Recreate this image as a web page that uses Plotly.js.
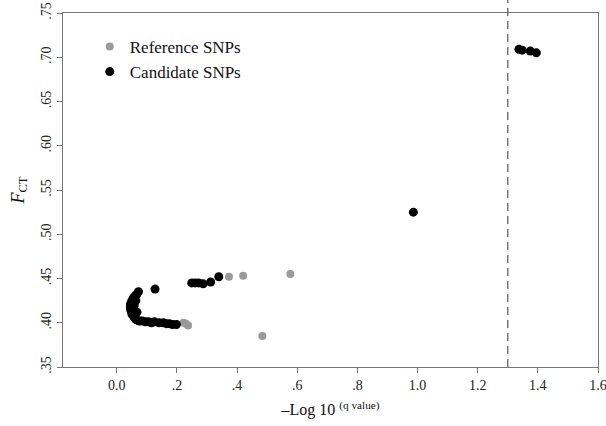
<!DOCTYPE html>
<html>
<head>
<meta charset="utf-8">
<script src="https://cdn.plot.ly/plotly-3.0.1.min.js"></script>
<style>html,body{margin:0;padding:0;background:#fff;}#chart{width:606px;height:426px;}</style>
</head>
<body>
<div id="chart"></div>
<script>
// Reference SNPs (grey)
const refX = [0.222, 0.230, 0.237, 0.373, 0.420, 0.577, 0.484];
const refY = [0.400, 0.399, 0.397, 0.452, 0.453, 0.455, 0.385];

// Candidate SNPs (black)
const candX = [0.072, 0.066, 0.060, 0.055, 0.050, 0.047, 0.045, 0.045, 0.046, 0.048, 0.050, 0.054, 0.058, 0.063,
               0.068, 0.075, 0.085, 0.095, 0.105, 0.115, 0.125, 0.140, 0.155, 0.165, 0.175, 0.185, 0.198,
               0.058, 0.055, 0.063, 0.067, 0.060, 0.052,
               0.127,
               0.249, 0.260, 0.272, 0.287, 0.312, 0.339,
               0.986,
               1.337, 1.348, 1.375, 1.395];
const candY = [0.435, 0.432, 0.430, 0.428, 0.425, 0.422, 0.420, 0.417, 0.415, 0.413, 0.410, 0.408, 0.406, 0.404,
               0.403, 0.402, 0.402, 0.401, 0.401, 0.400, 0.401, 0.400, 0.400, 0.399, 0.399, 0.398, 0.398,
               0.420, 0.415, 0.425, 0.412, 0.410, 0.418,
               0.438,
               0.445, 0.445, 0.445, 0.444, 0.446, 0.452,
               0.525,
               0.709, 0.708, 0.707, 0.705];

const xTickVals = [0, 0.2, 0.4, 0.6, 0.8, 1.0, 1.2, 1.4, 1.6];
const xTickText = ["0.0", ".2", ".4", ".6", ".8", "1.0", "1.2", "1.4", "1.6"];
const yTickVals = [0.35, 0.40, 0.45, 0.50, 0.55, 0.60, 0.65, 0.70, 0.75];
const yTickText = [".35", ".40", ".45", ".50", ".55", ".60", ".65", ".70", ".75"];
const threshold = 1.3;

const font = "Liberation Serif, Times New Roman, serif";

const traces = [
  {x: refX, y: refY, type: "scatter", mode: "markers", name: "Reference SNPs", legendgroup: "a",
   marker: {color: "#9a9a9a", size: 8}},
  {x: candX, y: candY, type: "scatter", mode: "markers", name: "Candidate SNPs", legendgroup: "b",
   marker: {color: "#000000", size: 9}}
];

const layout = {
  width: 606, height: 426,
  margin: {l: 63, r: 8, t: 13, b: 59},
  paper_bgcolor: "#fff", plot_bgcolor: "#fff",
  font: {family: font, size: 14, color: "#222"},
  showlegend: true,
  legend: {x: 0.05, y: 0.955, xanchor: "left", yanchor: "top", bgcolor: "rgba(0,0,0,0)",
           font: {family: font, size: 17, color: "#111"}, traceorder: "grouped", tracegroupgap: 0},
  xaxis: {range: [-0.179, 1.6], tickvals: xTickVals, ticktext: xTickText, ticks: "outside", ticklen: 5,
          tickcolor: "#777", showgrid: false, zeroline: false, showline: true, linecolor: "#777", linewidth: 1,
          mirror: true, ticklabeloverflow: "allow", tickfont: {family: font, size: 14, color: "#222"},
          title: {text: "\u2013Log 10 <sup>(q value)</sup>", font: {family: font, size: 16, color: "#111"}, standoff: 12}},
  yaxis: {range: [0.35, 0.75], tickvals: yTickVals, ticktext: yTickText, ticks: "outside", ticklen: 5,
          tickcolor: "#777", showgrid: false, zeroline: false, showline: true, linecolor: "#777", linewidth: 1,
          mirror: true, tickangle: -90, ticklabeloverflow: "allow", tickfont: {family: font, size: 14, color: "#222"},
          title: {text: "<i>F</i><sub>CT</sub>", font: {family: font, size: 18, color: "#111"}, standoff: 10}},
  shapes: [
    {type: "line", xref: "x", yref: "paper", x0: threshold, x1: threshold, y0: 0, y1: 1.037,
     line: {color: "#555", width: 1.2, dash: "8px,5px"}}
  ]
};

Plotly.newPlot("chart", traces, layout, {displayModeBar: false, staticPlot: true});
</script>
</body>
</html>
